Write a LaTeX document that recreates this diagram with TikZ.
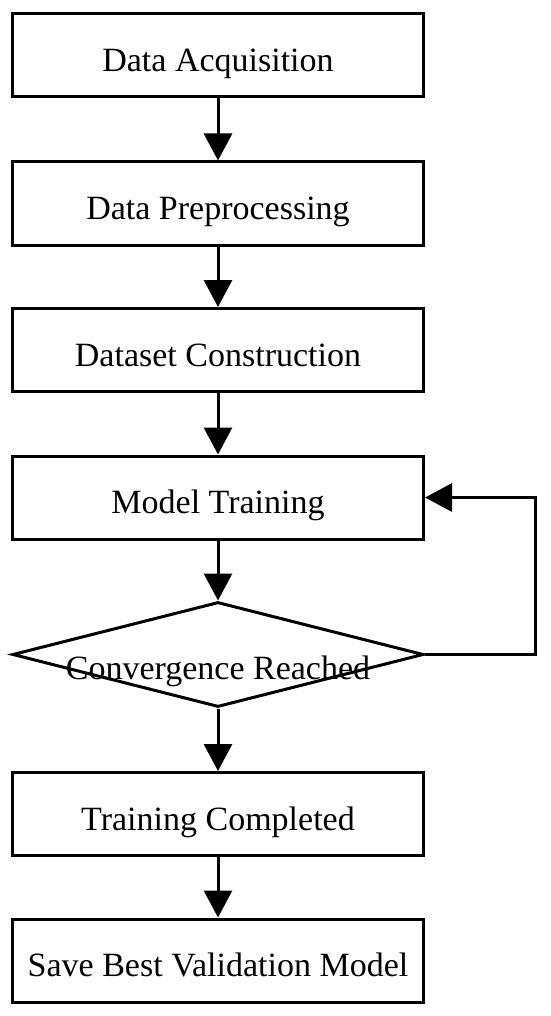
\documentclass[tikz,border=0pt]{standalone}
\usepackage{fontspec}
\setmainfont{Liberation Serif}
\usetikzlibrary{arrows.meta,shapes.geometric}
\tikzset{
  stepbox/.style={draw=black, line width=3pt, rectangle, minimum width=411pt, minimum height=83pt, inner sep=0pt, text height=32pt, text depth=0pt, font=\fontsize{34}{40}\selectfont},
  decbox/.style={draw=black, line width=3pt, diamond, minimum width=411pt, minimum height=105pt, inner sep=0pt},
  dectext/.style={inner sep=0pt, font=\fontsize{34}{40}\selectfont},
  arr/.style={line width=3pt, -{Triangle[length=27pt,width=28pt]}}
}
\begin{document}
\begin{tikzpicture}[x=1pt,y=-1pt]
\useasboundingbox (0,0) rectangle (550,1016);
\node[stepbox] (acq) at (218,55.5) {Data Acquisition};
\node[stepbox] (pre) at (218,203.5) {Data Preprocessing};
\node[stepbox] (ds) at (218,350) {Dataset Construction};
\node[stepbox] (train) at (218,497.5) {Model Training};
\node[decbox] (dec) at (218,654.5) {};
\node[dectext] (dect) at (218,671) {Convergence Reached};
\node[stepbox] (done) at (218,814) {Training Completed};
\node[stepbox] (save) at (218,960.5) {Save Best Validation Model};
\coordinate (c1) at (535,654.5);
\coordinate (c2) at (535,497.5);
\draw[arr] (acq.south) -- (pre.north);
\draw[arr] (pre.south) -- (ds.north);
\draw[arr] (ds.south) -- (train.north);
\draw[arr] (train.south) -- (dec.north);
\draw[arr] (dec.south) -- (done.north);
\draw[arr] (done.south) -- (save.north);
\draw[arr, line join=miter] (dec.east) -- (c1) -- (c2) -- (train.east);
\end{tikzpicture}
\end{document}
